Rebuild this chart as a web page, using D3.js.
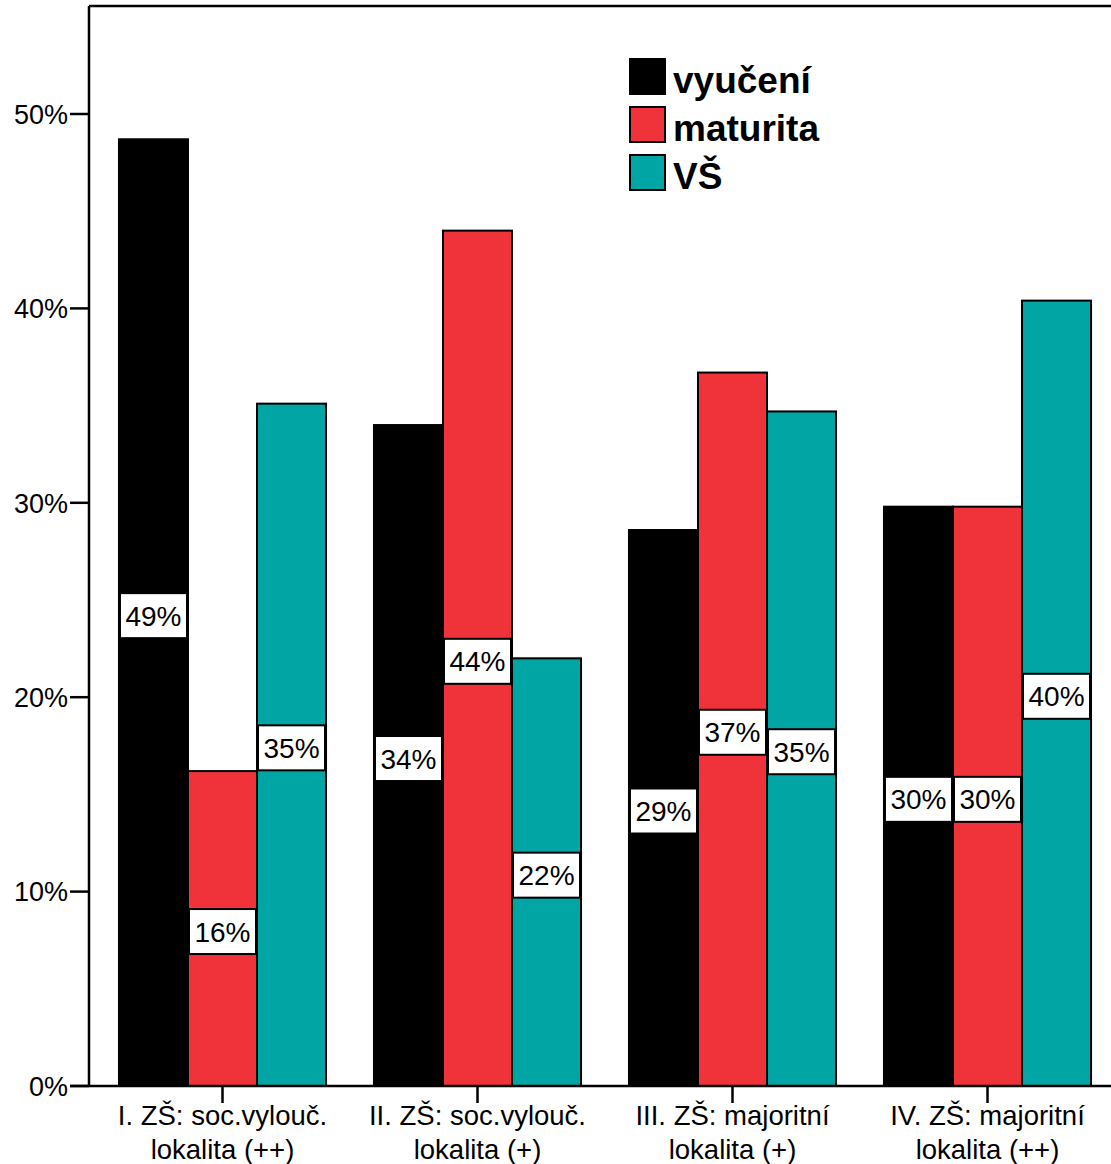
<!DOCTYPE html>
<html><head><meta charset="utf-8">
<script src="https://cdn.jsdelivr.net/npm/d3@7"></script>
<style>body{margin:0;background:#fff}svg{display:block}text{font-family:"Liberation Sans",Arial,sans-serif}</style>
</head><body>
<script>
const categories = [["I. ZŠ: soc.vylouč.","lokalita (++)"],["II. ZŠ: soc.vylouč.","lokalita (+)"],["III. ZŠ: majoritní","lokalita (+)"],["IV. ZŠ: majoritní","lokalita (++)"]];
const seriesNames = ["vyučení","maturita","VŠ"];
const vyuceni = [48.7, 34.0, 28.6, 29.8];
const maturita = [16.2, 44.0, 36.7, 29.8];
const vs = [35.1, 22.0, 34.7, 40.4];
const yTicks = [0,10,20,30,40,50];
const colors = ["#000000","#f0333b","#00a5a4"];

const W=1111,H=1164;
const svg=d3.select("body").append("svg").attr("width",W).attr("height",H);
const y=d3.scaleLinear().domain([0,50]).range([1086,114]);
const x=d3.scaleBand().domain(d3.range(4)).range([95,1115]).paddingInner(0.188).paddingOuter(0.094);
const xs=d3.scaleBand().domain(d3.range(3)).range([0,x.bandwidth()]);
const series=[vyuceni,maturita,vs];

// frame
svg.append("line").attr("x1",89).attr("x2",1111).attr("y1",6).attr("y2",6).attr("stroke","#000").attr("stroke-width",2.5);
svg.append("line").attr("x1",89).attr("x2",89).attr("y1",6).attr("y2",1086).attr("stroke","#000").attr("stroke-width",2.5);

// y axis
const ya=svg.append("g");
yTicks.forEach(t=>{
  ya.append("line").attr("x1",70).attr("x2",89).attr("y1",y(t)).attr("y2",y(t)).attr("stroke","#000").attr("stroke-width",2.5);
  ya.append("text").attr("x",68).attr("y",y(t)).attr("dy","0.36em").attr("text-anchor","end").attr("font-size",27).text(t+"%");
});

// bars
const g=svg.append("g");
categories.forEach((c,i)=>{
  series.forEach((s,j)=>{
    const bx=x(i)+xs(j), bw=xs.bandwidth(), v=s[i];
    g.append("rect").attr("x",bx).attr("y",y(v)).attr("width",bw).attr("height",y(0)-y(v))
      .attr("fill",colors[j]).attr("stroke","#000").attr("stroke-width",2);
  });
});
// labels
categories.forEach((c,i)=>{
  series.forEach((s,j)=>{
    const bx=x(i)+xs(j), bw=xs.bandwidth(), v=s[i];
    const cy=(y(v)+y(0))/2+3;
    g.append("rect").attr("x",bx+1).attr("y",cy-22.5).attr("width",bw-2).attr("height",45)
      .attr("fill","#fff").attr("stroke","#000").attr("stroke-width",2);
    g.append("text").attr("x",bx+bw/2).attr("y",cy).attr("dy","0.36em").attr("text-anchor","middle")
      .attr("font-size",28).text(Math.round(v)+"%");
  });
});

// x axis
svg.append("line").attr("x1",70).attr("x2",1111).attr("y1",1086).attr("y2",1086).attr("stroke","#000").attr("stroke-width",2.5);
categories.forEach((c,i)=>{
  const cx=x(i)+x.bandwidth()/2;
  svg.append("line").attr("x1",cx).attr("x2",cx).attr("y1",1086).attr("y2",1103).attr("stroke","#000").attr("stroke-width",2.5);
  const t=svg.append("text").attr("text-anchor","middle").attr("font-size",27.5);
  t.append("tspan").attr("x",cx).attr("y",1125).text(c[0]);
  t.append("tspan").attr("x",cx).attr("y",1159).text(c[1]);
});

// legend
const lg=svg.append("g");
seriesNames.forEach((n,j)=>{
  const ly=59+j*48;
  lg.append("rect").attr("x",630).attr("y",ly).attr("width",35).attr("height",35).attr("fill",colors[j]).attr("stroke","#000").attr("stroke-width",2);
  lg.append("text").attr("x",673).attr("y",ly+34).attr("font-size",37).attr("font-weight","bold").text(n);
});
</script>
</body></html>
